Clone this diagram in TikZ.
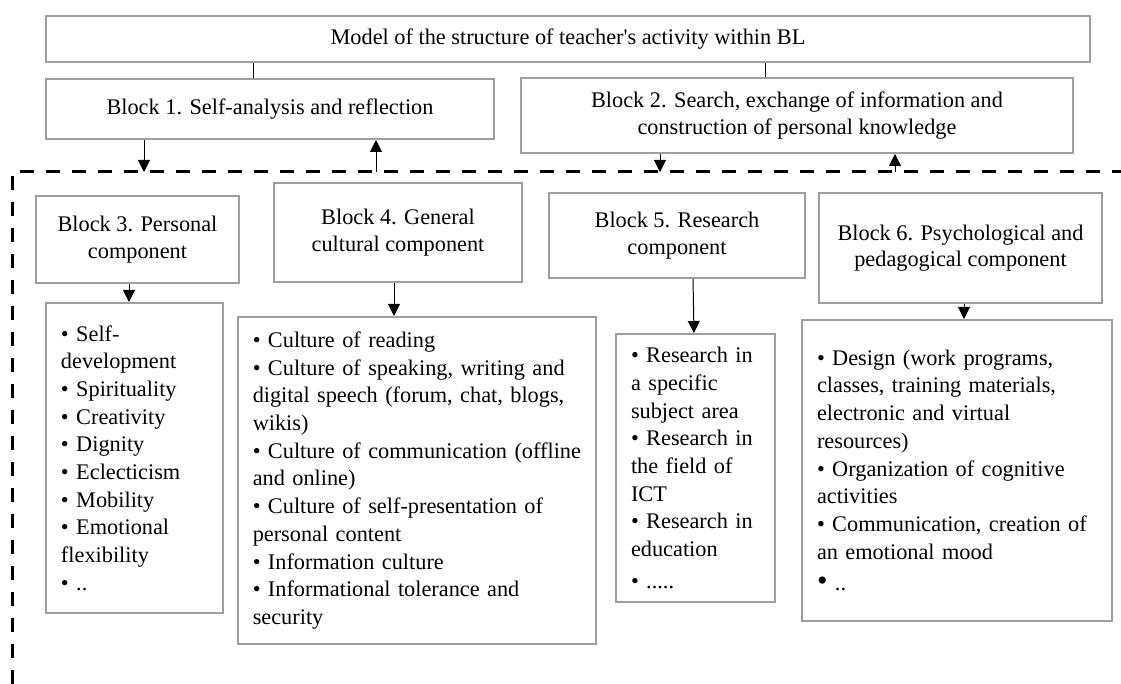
\documentclass[tikz,border=0pt]{standalone}
\usepackage{fontspec}
\setmainfont{Liberation Serif}
\usetikzlibrary{arrows.meta}

\begin{document}
\begin{tikzpicture}[x=0.5pt, y=-0.5pt,
    font=\fontsize{11.15pt}{13.3pt}\selectfont,
    block/.style={draw=gray!75, line width=1pt, align=center, inner sep=0pt},
    items/.style={draw=gray!75, line width=1pt, align=left, inner xsep=7.5pt, inner ysep=0pt,
      font=\fontsize{11.15pt}{13.85pt}\selectfont},
    link/.style={line width=0.5pt, -{Triangle[length=6pt, width=6pt]}},
    frame/.style={line width=1.5pt, dash pattern=on 7pt off 6pt}]
  \useasboundingbox (0,0) rectangle (1121,684);

  \node[block, minimum width=522pt, minimum height=23pt] (model) at (568,39)
    {Model of the structure of teacher\textquotesingle s activity within BL};
  \node[block, minimum width=224pt, minimum height=30pt] (b1) at (270,109)
    {Block 1. Self-analysis and reflection};
  \node[block, minimum width=276pt, minimum height=37.5pt] (b2) at (797,115.5)
    {Block 2. Search, exchange of information and\\construction of personal knowledge};

  \node[block, minimum width=101.5pt, minimum height=43.5pt] (b3) at (137.5,239.5)
    {Block 3. Personal\\component};
  \node[block, minimum width=124pt, minimum height=49.5pt] (b4) at (398,232.5)
    {Block 4. General\\cultural component};
  \node[block, minimum width=128pt, minimum height=42.5pt] (b5) at (677,235.5)
    {Block 5. Research\\component};
  \node[block, minimum width=141.5pt, minimum height=55pt] (b6) at (960.5,248)
    {Block 6. Psychological and\\pedagogical component};

  \node[items, text width=73.5pt, minimum height=155pt] (l3) at (134.5,458)
    {• Self-\\development\\• Spirituality\\• Creativity\\• Dignity\\• Eclecticism\\• Mobility\\• Emotional\\flexibility\\• ..};
  \node[items, text width=164.25pt, minimum height=163.5pt] (l4) at (417,480.5)
    {• Culture of reading\\
     • Culture of speaking, writing and\\
     digital speech (forum, chat, blogs,\\
     wikis)\\
     • Culture of communication (offline\\
     and online)\\
     • Culture of self-presentation of\\
     personal content\\
     • Information culture\\
     • Informational tolerance and\\
     security};
  \node[items, text width=64.5pt, minimum height=134pt] (l5) at (695.5,468)
    {• Research in\\a specific\\subject area\\• Research in\\the field of\\ICT\\• Research in\\education\\[2pt]• .....};
  \node[items, text width=140pt, minimum height=150.5pt] (l6) at (957,470.5)
    {• Design (work programs,\\
     classes, training materials,\\
     electronic and virtual\\
     resources)\\
     • Organization of cognitive\\
     activities\\
     • Communication, creation of\\
     an emotional mood\\[2pt]
     {\fontsize{15pt}{13.85pt}\selectfont •} ..};

  \draw[line width=0.5pt] ([xshift=-157.5pt]model.south) -- ([xshift=-8.5pt]b1.north);
  \draw[line width=0.5pt] ([xshift=98.5pt]model.south) -- ([xshift=-16pt]b2.north);

  \coordinate (d1) at (144,172);
  \coordinate (u1) at (376,172);
  \coordinate (d2) at (660,172);
  \coordinate (u2) at (895,172);
  \draw[frame] (12,684) -- (12,172) -- (1121,172);
  \draw[link] (b1.south -| d1) -- (d1);
  \draw[link] (u1) -- (b1.south -| u1);
  \draw[link] (b2.south -| d2) -- (d2);
  \draw[link] (u2) -- (b2.south -| u2);

  \draw[link] ([xshift=-4.25pt]b3.south) -- ([xshift=-2.75pt]l3.north);
  \draw[link] ([xshift=-2pt]b4.south) -- ([xshift=-11.5pt]l4.north);
  \draw[link] ([xshift=8pt]b5.south) -- ([xshift=-0.75pt]l5.north);
  \draw[link] ([xshift=1.75pt]b6.south) -- ([xshift=3.5pt]l6.north);
\end{tikzpicture}
\end{document}
